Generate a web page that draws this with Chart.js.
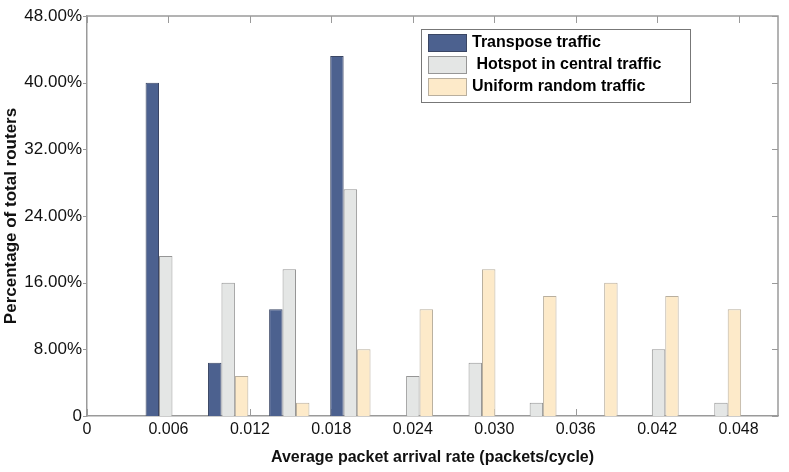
<!DOCTYPE html>
<html>
<head>
<meta charset="utf-8">
<script src="https://cdn.jsdelivr.net/npm/chart.js@4.4.0/dist/chart.umd.min.js"></script>
<style>
  html, body { margin: 0; padding: 0; background: #fff; }
  #wrap { width: 789px; height: 472px; position: relative; }
</style>
</head>
<body>
<div id="wrap"><canvas id="bars"></canvas></div>
<script>
// group positions on the arrival-rate axis (packets/cycle)
const groupX = [0.0058, 0.0104, 0.0149, 0.0194, 0.0240, 0.0286, 0.0331, 0.0376, 0.0421, 0.0467];

// percentage of total routers
const transpose = [40.0, 6.4, 12.8, 43.2, 0, 0, 0, 0, 0, 0];
const hotspot = [19.2, 16.0, 17.6, 27.2, 4.8, 6.4, 1.6, 0, 8.0, 1.6];
const uniform = [0, 4.8, 1.6, 8.0, 12.8, 17.6, 14.4, 16.0, 14.4, 12.8];

const seriesNames = ['Transpose traffic', ' Hotspot in central traffic', 'Uniform random traffic'];

const xTickValues = [0, 0.006, 0.012, 0.018, 0.024, 0.030, 0.036, 0.042, 0.048];
const xTickLabels = ['0', '0.006', '0.012', '0.018', '0.024', '0.030', '0.036', '0.042', '0.048'];
const yTickValues = [0, 8, 16, 24, 32, 40, 48];
const yTickLabels = ['0', '8.00%', '16.00%', '24.00%', '32.00%', '40.00%', '48.00%'];

const fills = ['rgb(76,97,143)', 'rgb(228,230,229)', 'rgb(253,234,201)'];
const edges = ['rgb(58,70,100)', 'rgb(150,150,150)', 'rgb(185,175,158)'];
const axisColor = '#9a9a9a';
const FONT = "'Liberation Sans', Arial, sans-serif";

const toPoints = vals => groupX.map((x, i) => ({ x: x, y: vals[i] }));

// MATLAB style box with inward ticks
const boxTicks = {
  id: 'boxTicks',
  beforeDatasetsDraw(chart) {
    const { ctx, chartArea: a } = chart;
    const xs = chart.scales.x, ys = chart.scales.y;
    ctx.save();
    ctx.strokeStyle = axisColor;
    ctx.lineWidth = 1;
    ctx.beginPath();
    xTickValues.forEach(v => {
      const px = Math.round(xs.getPixelForValue(v)) + 0.5;
      ctx.moveTo(px, a.bottom); ctx.lineTo(px, a.bottom - 7);
      ctx.moveTo(px, a.top); ctx.lineTo(px, a.top + 7);
    });
    yTickValues.forEach(v => {
      const py = Math.round(ys.getPixelForValue(v)) + 0.5;
      ctx.moveTo(a.right, py); ctx.lineTo(a.right - 6, py);
      ctx.moveTo(a.left, py); ctx.lineTo(a.left - 4, py);
    });
    ctx.stroke();
    ctx.restore();
  },
  afterDatasetsDraw(chart) {
    const { ctx, chartArea: a } = chart;
    ctx.save();
    ctx.strokeStyle = axisColor;
    ctx.lineWidth = 1.5;
    ctx.beginPath();
    ctx.moveTo(a.left, a.top); ctx.lineTo(a.right, a.top); ctx.lineTo(a.right, a.bottom);
    ctx.stroke();
    ctx.restore();
  }
};

// boxed legend in the upper middle of the plot
const boxLegend = {
  id: 'boxLegend',
  afterDraw(chart) {
    const ctx = chart.ctx;
    const left = 421, top = 29, w = 269, h = 73;
    ctx.save();
    ctx.fillStyle = '#fff';
    ctx.fillRect(left, top, w, h);
    ctx.strokeStyle = '#777';
    ctx.lineWidth = 1;
    ctx.strokeRect(left + 0.5, top + 0.5, w, h);
    ctx.font = 'bold 16px ' + FONT;
    ctx.textBaseline = 'middle';
    chart.data.datasets.forEach((ds, i) => {
      const y = top + 5 + i * 22;
      ctx.fillStyle = ds.backgroundColor;
      ctx.fillRect(428, y, 38, 17);
      ctx.strokeStyle = ds.borderColor;
      ctx.strokeRect(428.5, y + 0.5, 38, 17);
      ctx.fillStyle = '#000';
      ctx.fillText(ds.label, 472, y + 9);
    });
    ctx.restore();
  }
};

new Chart(document.getElementById('bars'), {
  type: 'bar',
  data: {
    datasets: [transpose, hotspot, uniform].map((vals, i) => ({
      label: seriesNames[i],
      data: toPoints(vals),
      backgroundColor: fills[i],
      borderColor: edges[i],
      borderWidth: c => (c.raw && c.raw.y > 0 ? 1 : 0),
      borderSkipped: 'start',
      categoryPercentage: 0.66,
      barPercentage: 1.0
    }))
  },
  options: {
    responsive: true,
    maintainAspectRatio: false,
    animation: false,
    layout: { padding: { left: 0, right: 11, top: 16, bottom: 0 } },
    plugins: {
      legend: { display: false },
      tooltip: { enabled: false }
    },
    scales: {
      x: {
        type: 'linear',
        min: 0,
        max: 0.0509,
        offset: false,
        grid: { display: false, drawTicks: false, offset: false },
        border: { display: true, color: axisColor, width: 1.5 },
        afterBuildTicks: s => { s.ticks = xTickValues.map(v => ({ value: v })); },
        afterFit: s => { s.height = 56; },
        ticks: {
          autoSkip: false,
          maxRotation: 0,
          padding: 4,
          color: '#111',
          font: { family: FONT, size: 16 },
          callback: (v, i) => xTickLabels[i]
        },
        title: {
          display: true,
          text: 'Average packet arrival rate (packets/cycle)',
          color: '#111',
          font: { family: FONT, size: 16, weight: 'bold' },
          padding: { top: 0, bottom: 5 }
        }
      },
      y: {
        min: 0,
        max: 48,
        grid: { display: false, drawTicks: false },
        border: { display: true, color: axisColor, width: 1.5 },
        afterBuildTicks: s => { s.ticks = yTickValues.map(v => ({ value: v })); },
        afterFit: s => { s.width = 87; },
        ticks: {
          padding: 5,
          color: '#111',
          font: { family: FONT, size: 17 },
          callback: (v, i) => yTickLabels[i]
        },
        title: {
          display: true,
          text: 'Percentage of total routers',
          color: '#111',
          font: { family: FONT, size: 17, weight: 'bold' },
          padding: { top: 1, bottom: 0 }
        }
      }
    }
  },
  plugins: [boxTicks, boxLegend]
});
</script>
</body>
</html>
